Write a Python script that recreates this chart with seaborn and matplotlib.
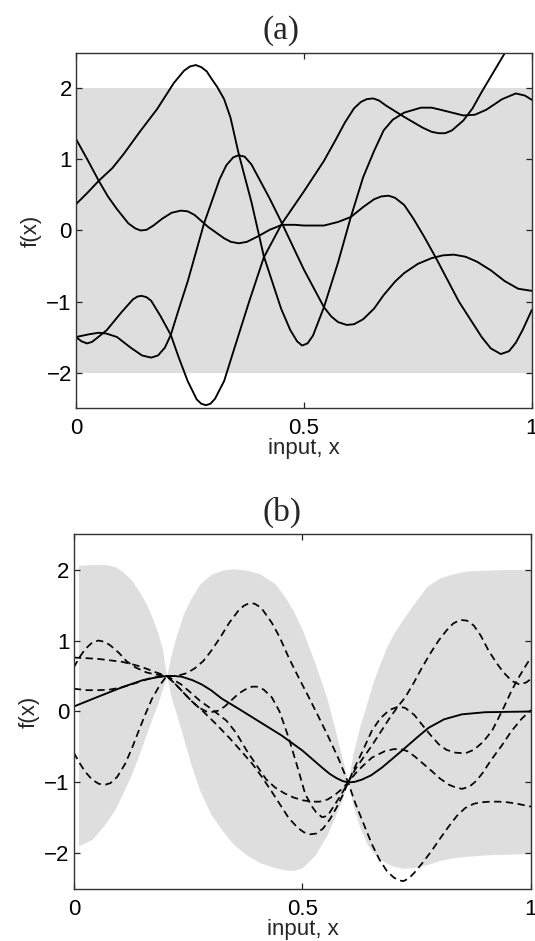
import numpy as np
import pandas as pd
import matplotlib
matplotlib.use("Agg")
import matplotlib.pyplot as plt
import seaborn as sns

# ---------------- data ----------------
# Panel (a): prior band (+/- 2) and four sample functions
prior_band_x = [0.0, 1.0]
prior_band_upper = [2.0, 2.0]
prior_band_lower = [-2.0, -2.0]

a1_x = [0, 0.025, 0.05, 0.08, 0.105, 0.14, 0.178, 0.20, 0.215, 0.237, 0.25, 0.263, 0.275, 0.287,
        0.296, 0.31, 0.325, 0.339, 0.357, 0.385, 0.412, 0.45, 0.47, 0.485, 0.496, 0.508, 0.52,
        0.544, 0.575, 0.603, 0.63, 0.654, 0.675, 0.695, 0.72, 0.757, 0.78, 0.80, 0.85, 0.875,
        0.90, 0.935, 0.965, 0.985, 1.0]
a1_y = [0.37, 0.53, 0.70, 0.88, 1.08, 1.39, 1.71, 1.93, 2.08, 2.25, 2.31, 2.33, 2.30, 2.24,
        2.15, 2.02, 1.85, 1.59, 1.08, 0.40, -0.36, -1.10, -1.40, -1.56, -1.62, -1.59, -1.48,
        -1.08, -0.45, 0.19, 0.75, 1.12, 1.41, 1.56, 1.66, 1.73, 1.73, 1.70, 1.62, 1.63,
        1.70, 1.85, 1.93, 1.90, 1.84]

a2_x = [0, 0.025, 0.05, 0.07, 0.09, 0.115, 0.13, 0.142, 0.155, 0.17, 0.19, 0.21, 0.23, 0.245,
        0.26, 0.29, 0.325, 0.34, 0.357, 0.375, 0.40, 0.425, 0.452, 0.48, 0.50, 0.544, 0.575,
        0.603, 0.63, 0.654, 0.67, 0.686, 0.70, 0.72, 0.74, 0.765, 0.79, 0.84, 0.89, 0.91,
        0.932, 0.95, 0.965, 0.98, 1.0]
a2_y = [1.29, 1.00, 0.70, 0.48, 0.30, 0.10, 0.03, 0.00, 0.01, 0.07, 0.17, 0.25, 0.28, 0.27,
        0.22, 0.05, -0.11, -0.16, -0.18, -0.16, -0.08, 0.01, 0.08, 0.08, 0.07, 0.07, 0.12,
        0.19, 0.33, 0.44, 0.48, 0.49, 0.46, 0.36, 0.17, -0.10, -0.39, -1.00, -1.50, -1.66,
        -1.74, -1.70, -1.58, -1.40, -1.12]

a3_x = [0, 0.03, 0.05, 0.066, 0.09, 0.12, 0.145, 0.165, 0.18, 0.195, 0.208, 0.225, 0.245, 0.281,
        0.315, 0.33, 0.345, 0.357, 0.37, 0.385, 0.40, 0.425, 0.452, 0.50, 0.544, 0.56, 0.575,
        0.594, 0.61, 0.63, 0.654, 0.675, 0.70, 0.72, 0.75, 0.78, 0.805, 0.829, 0.855, 0.88,
        0.91, 0.94, 0.97, 1.0]
a3_y = [-1.50, -1.46, -1.44, -1.45, -1.50, -1.65, -1.76, -1.79, -1.76, -1.65, -1.47, -1.12, -0.72, 0.10,
        0.72, 0.92, 1.03, 1.06, 1.04, 0.93, 0.75, 0.45, 0.10, -0.55, -1.08, -1.21, -1.29,
        -1.33, -1.32, -1.25, -1.10, -0.91, -0.72, -0.60, -0.47, -0.39, -0.35, -0.34, -0.37, -0.44,
        -0.56, -0.71, -0.82, -0.85]

a4_x = [0, 0.012, 0.024, 0.035, 0.045, 0.068, 0.10, 0.125, 0.135, 0.144, 0.155, 0.165, 0.185, 0.208,
        0.225, 0.245, 0.265, 0.275, 0.285, 0.295, 0.305, 0.325, 0.346, 0.38, 0.412, 0.452, 0.50,
        0.544, 0.57, 0.59, 0.61, 0.625, 0.638, 0.652, 0.665, 0.68, 0.72, 0.76, 0.78, 0.796,
        0.81, 0.825, 0.85, 0.87, 0.89, 0.915, 0.94, 0.97]
a4_y = [-1.50, -1.56, -1.59, -1.57, -1.52, -1.40, -1.15, -0.97, -0.93, -0.92, -0.94, -0.99, -1.20, -1.47,
        -1.78, -2.12, -2.38, -2.44, -2.46, -2.44, -2.37, -2.12, -1.69, -1.00, -0.38, 0.10, 0.55,
        0.98, 1.28, 1.52, 1.72, 1.81, 1.85, 1.86, 1.83, 1.76, 1.60, 1.45, 1.39, 1.37,
        1.37, 1.41, 1.55, 1.72, 1.95, 2.22, 2.49, 2.85]

# Panel (b): posterior +/- 2 sd band, posterior mean and four posterior samples
post_band_x = [0.01, 0.04, 0.069, 0.09, 0.105, 0.125, 0.142, 0.158, 0.171, 0.183, 0.193, 0.203,
               0.213, 0.225, 0.24, 0.255, 0.276, 0.30, 0.325, 0.349, 0.38, 0.407, 0.44, 0.462,
               0.48, 0.50, 0.528, 0.553, 0.572, 0.585, 0.6, 0.61, 0.625, 0.64, 0.655, 0.67,
               0.685, 0.70, 0.72, 0.742, 0.772, 0.80, 0.83, 0.86, 0.90, 0.95, 1.0]
post_band_upper = [2.06, 2.07, 2.07, 2.04, 1.98, 1.86, 1.70, 1.52, 1.33, 1.12, 0.90, 0.50,
                   0.80, 1.08, 1.38, 1.58, 1.80, 1.93, 1.99, 2.01, 1.99, 1.94, 1.80, 1.61,
                   1.42, 1.15, 0.67, 0.20, -0.27, -0.60, -1.00, -0.62, -0.22, 0.10, 0.42, 0.68,
                   0.92, 1.10, 1.30, 1.50, 1.76, 1.88, 1.94, 1.98, 1.99, 2.00, 2.00]
post_band_lower = [-1.89, -1.80, -1.58, -1.38, -1.18, -0.90, -0.62, -0.33, -0.10, 0.10, 0.30, 0.50,
                   0.20, -0.05, -0.38, -0.72, -1.12, -1.45, -1.68, -1.87, -2.03, -2.13, -2.20, -2.23,
                   -2.24, -2.20, -2.02, -1.75, -1.47, -1.27, -1.00, -1.30, -1.62, -1.85, -1.99, -2.08,
                   -2.14, -2.18, -2.21, -2.20, -2.16, -2.10, -2.06, -2.04, -2.02, -2.01, -2.00]

mean_x = [0, 0.05, 0.105, 0.15, 0.18, 0.203, 0.22, 0.236, 0.26, 0.28, 0.30, 0.324, 0.36, 0.40,
          0.455, 0.50, 0.543, 0.56, 0.575, 0.588, 0.601, 0.615, 0.63, 0.65, 0.674, 0.718, 0.75,
          0.776, 0.81, 0.849, 0.90, 1.0]
mean_y = [0.07, 0.20, 0.34, 0.44, 0.48, 0.50, 0.50, 0.49, 0.44, 0.38, 0.30, 0.18, 0.04, -0.12,
          -0.34, -0.55, -0.79, -0.88, -0.94, -0.98, -1.00, -0.99, -0.96, -0.90, -0.79, -0.55, -0.37,
          -0.23, -0.11, -0.04, -0.01, 0.00]

b1_x = [0, 0.012, 0.025, 0.04, 0.054, 0.068, 0.08, 0.098, 0.115, 0.135, 0.159, 0.18, 0.203,
        0.225, 0.247, 0.265, 0.283, 0.30, 0.32, 0.34, 0.36, 0.372, 0.382, 0.395, 0.41, 0.433,
        0.45, 0.47, 0.49, 0.514, 0.535, 0.557, 0.58, 0.6,
        0.615, 0.63, 0.652, 0.668, 0.685, 0.70, 0.712, 0.721, 0.733, 0.745, 0.763, 0.783, 0.80,
        0.82, 0.838, 0.856, 0.875, 0.89, 0.91, 0.93, 0.95, 0.97, 0.985, 1.0]
b1_y = [0.62, 0.76, 0.88, 0.97, 1.00, 0.98, 0.93, 0.83, 0.71, 0.62, 0.55, 0.52, 0.50,
        0.50, 0.54, 0.61, 0.71, 0.85, 1.04, 1.25, 1.42, 1.49, 1.52, 1.52, 1.46, 1.25,
        1.05, 0.76, 0.50, 0.20, -0.07, -0.36, -0.68, -1.00,
        -1.28, -1.52, -1.87, -2.08, -2.25, -2.34, -2.38, -2.39, -2.35, -2.27, -2.13, -1.96, -1.80,
        -1.62, -1.47, -1.36, -1.30, -1.28, -1.27, -1.27, -1.28, -1.30, -1.32, -1.34]

b2_x = [0, 0.03, 0.054, 0.08, 0.105, 0.125, 0.142, 0.16, 0.18, 0.203,
        0.22, 0.235, 0.255, 0.276, 0.30, 0.334, 0.355, 0.378, 0.40, 0.42, 0.44, 0.46, 0.48,
        0.50, 0.52, 0.538, 0.555, 0.57, 0.585, 0.6,
        0.615, 0.63, 0.652, 0.68, 0.70, 0.715, 0.73, 0.745, 0.765, 0.783, 0.80, 0.82, 0.835,
        0.849, 0.865, 0.88, 0.895, 0.907, 0.92, 0.935, 0.958, 0.98, 1.0]
b2_y = [0.76, 0.75, 0.74, 0.72, 0.70, 0.67, 0.64, 0.60, 0.55, 0.50,
        0.44, 0.38, 0.27, 0.15, 0.04, -0.13, -0.30, -0.55, -0.76, -0.95, -1.07, -1.15, -1.21,
        -1.25, -1.27, -1.27, -1.24, -1.18, -1.10, -1.00,
        -0.88, -0.78, -0.65, -0.56, -0.53, -0.53, -0.56, -0.63, -0.74, -0.84, -0.94, -1.03, -1.07,
        -1.09, -1.06, -0.98, -0.86, -0.74, -0.62, -0.49, -0.27, -0.10, 0.02]

b3_x = [0, 0.03, 0.054, 0.08, 0.105, 0.135, 0.163, 0.185, 0.203,
        0.22, 0.235, 0.255, 0.275, 0.29, 0.30, 0.315, 0.33, 0.345, 0.36, 0.375, 0.39, 0.40,
        0.415, 0.433, 0.45, 0.47, 0.49, 0.506, 0.52, 0.53, 0.543, 0.555, 0.572, 0.585, 0.6,
        0.615, 0.63, 0.652, 0.67, 0.69, 0.71, 0.725, 0.745, 0.76, 0.78, 0.798, 0.815, 0.83,
        0.845, 0.86, 0.875, 0.89, 0.907, 0.925, 0.94, 0.958, 0.975, 0.99, 1.0]
b3_y = [0.32, 0.30, 0.30, 0.31, 0.34, 0.40, 0.46, 0.49, 0.50,
        0.40, 0.30, 0.16, 0.05, 0.00, -0.01, 0.01, 0.07, 0.16, 0.25, 0.31, 0.35, 0.35,
        0.31, 0.20, 0.00, -0.37, -0.80, -1.16, -1.33, -1.42, -1.49, -1.47, -1.30, -1.17, -1.00,
        -0.82, -0.68, -0.48, -0.30, -0.10, 0.08, 0.20, 0.42, 0.60, 0.82, 1.00, 1.14, 1.24,
        1.29, 1.28, 1.21, 1.07, 0.86, 0.68, 0.55, 0.43, 0.38, 0.41, 0.46]

b4_x = [0, 0.012, 0.025, 0.04, 0.055, 0.069, 0.08, 0.095, 0.112, 0.127, 0.142, 0.157, 0.171,
        0.187, 0.203,
        0.22, 0.235, 0.26, 0.283, 0.31, 0.34, 0.365, 0.392, 0.41, 0.43, 0.45, 0.47, 0.49,
        0.503, 0.516, 0.53, 0.545, 0.56, 0.575, 0.588, 0.6,
        0.615, 0.63, 0.652, 0.67, 0.69, 0.71, 0.725, 0.745, 0.761, 0.78, 0.798, 0.815, 0.835,
        0.856, 0.875, 0.895, 0.915, 0.94, 0.958, 0.975, 0.99, 1.0]
b4_y = [-0.58, -0.72, -0.85, -0.96, -1.02, -1.03, -1.01, -0.92, -0.74, -0.52, -0.27, -0.03, 0.18,
        0.36, 0.50,
        0.40, 0.30, 0.13, 0.00, -0.17, -0.37, -0.55, -0.75, -0.91, -1.10, -1.30, -1.50, -1.64,
        -1.70, -1.73, -1.72, -1.65, -1.52, -1.35, -1.18, -1.00,
        -0.78, -0.58, -0.27, -0.10, 0.02, 0.07, 0.05, -0.05, -0.18, -0.33, -0.46, -0.54, -0.58,
        -0.59, -0.54, -0.43, -0.27, 0.05, 0.30, 0.50, 0.66, 0.76]

x_ticks = [0, 0.5, 1]
x_tick_labels = ["0", "0.5", "1"]
y_ticks = [-2, -1, 0, 1, 2]
y_tick_labels = ["\u22122", "\u22121", "0", "1", "2"]
panel_titles = ["(a)", "(b)"]
x_label = "input, x"
y_label = "f(x)"

# ---------------- style ----------------
sns.set_style("ticks")
plt.rcParams["font.family"] = ["Liberation Sans", "DejaVu Sans"]

BAND = "#dedede"
LW = 1.35
DASH = (0, (4.2, 2.6))

fig = plt.figure(figsize=(5.35, 9.41), dpi=100)
fig.patch.set_facecolor("white")
ax_a = fig.add_axes([0.142, 0.5664, 0.852, 0.3773])
ax_b = fig.add_axes([0.138, 0.0553, 0.8545, 0.3772])


def style_axes(ax):
    ax.set_xlim(0, 1)
    ax.set_ylim(-2.5, 2.5)
    ax.set_xticks(x_ticks)
    ax.set_xticklabels(x_tick_labels)
    ax.set_yticks(y_ticks)
    ax.set_yticklabels(y_tick_labels)
    ax.tick_params(direction="in", length=4, width=0.9, colors="#222222",
                   top=True, right=True, labelsize=16, labelcolor="black")
    ax.tick_params(axis="x", pad=7)
    ax.tick_params(axis="y", pad=3)
    for s in ax.spines.values():
        s.set_visible(True)
        s.set_linewidth(1.0)
        s.set_color("#333333")
    ax.set_xlabel(x_label, fontsize=16)
    ax.set_ylabel(y_label, fontsize=16)
    ax.xaxis.set_label_coords(0.5, -0.085)
    ax.yaxis.set_label_coords(-0.075, 0.5)
    ax.set_facecolor("white")


# Panel (a)
ax_a.fill_between(prior_band_x, prior_band_lower, prior_band_upper, color=BAND, linewidth=0, zorder=0)
for xs, ys in [(a1_x, a1_y), (a2_x, a2_y), (a3_x, a3_y), (a4_x, a4_y)]:
    sns.lineplot(x=xs, y=ys, ax=ax_a, color="black", linewidth=LW, sort=False, estimator=None)
style_axes(ax_a)

# Panel (b)
ax_b.fill_between(post_band_x, post_band_lower, post_band_upper, color=BAND, linewidth=0, zorder=0)
for xs, ys in [(b1_x, b1_y), (b2_x, b2_y), (b3_x, b3_y), (b4_x, b4_y)]:
    sns.lineplot(x=xs, y=ys, ax=ax_b, color="black", linewidth=1.25, linestyle=DASH,
                 sort=False, estimator=None)
sns.lineplot(x=mean_x, y=mean_y, ax=ax_b, color="black", linewidth=LW, sort=False, estimator=None)
style_axes(ax_b)

fig.text(0.525, 0.967, panel_titles[0], ha="center", va="center", fontsize=24,
         family=["Liberation Serif", "DejaVu Serif"])
fig.text(0.527, 0.456, panel_titles[1], ha="center", va="center", fontsize=24,
         family=["Liberation Serif", "DejaVu Serif"])

fig.savefig("out.png", dpi=100, facecolor="white")
